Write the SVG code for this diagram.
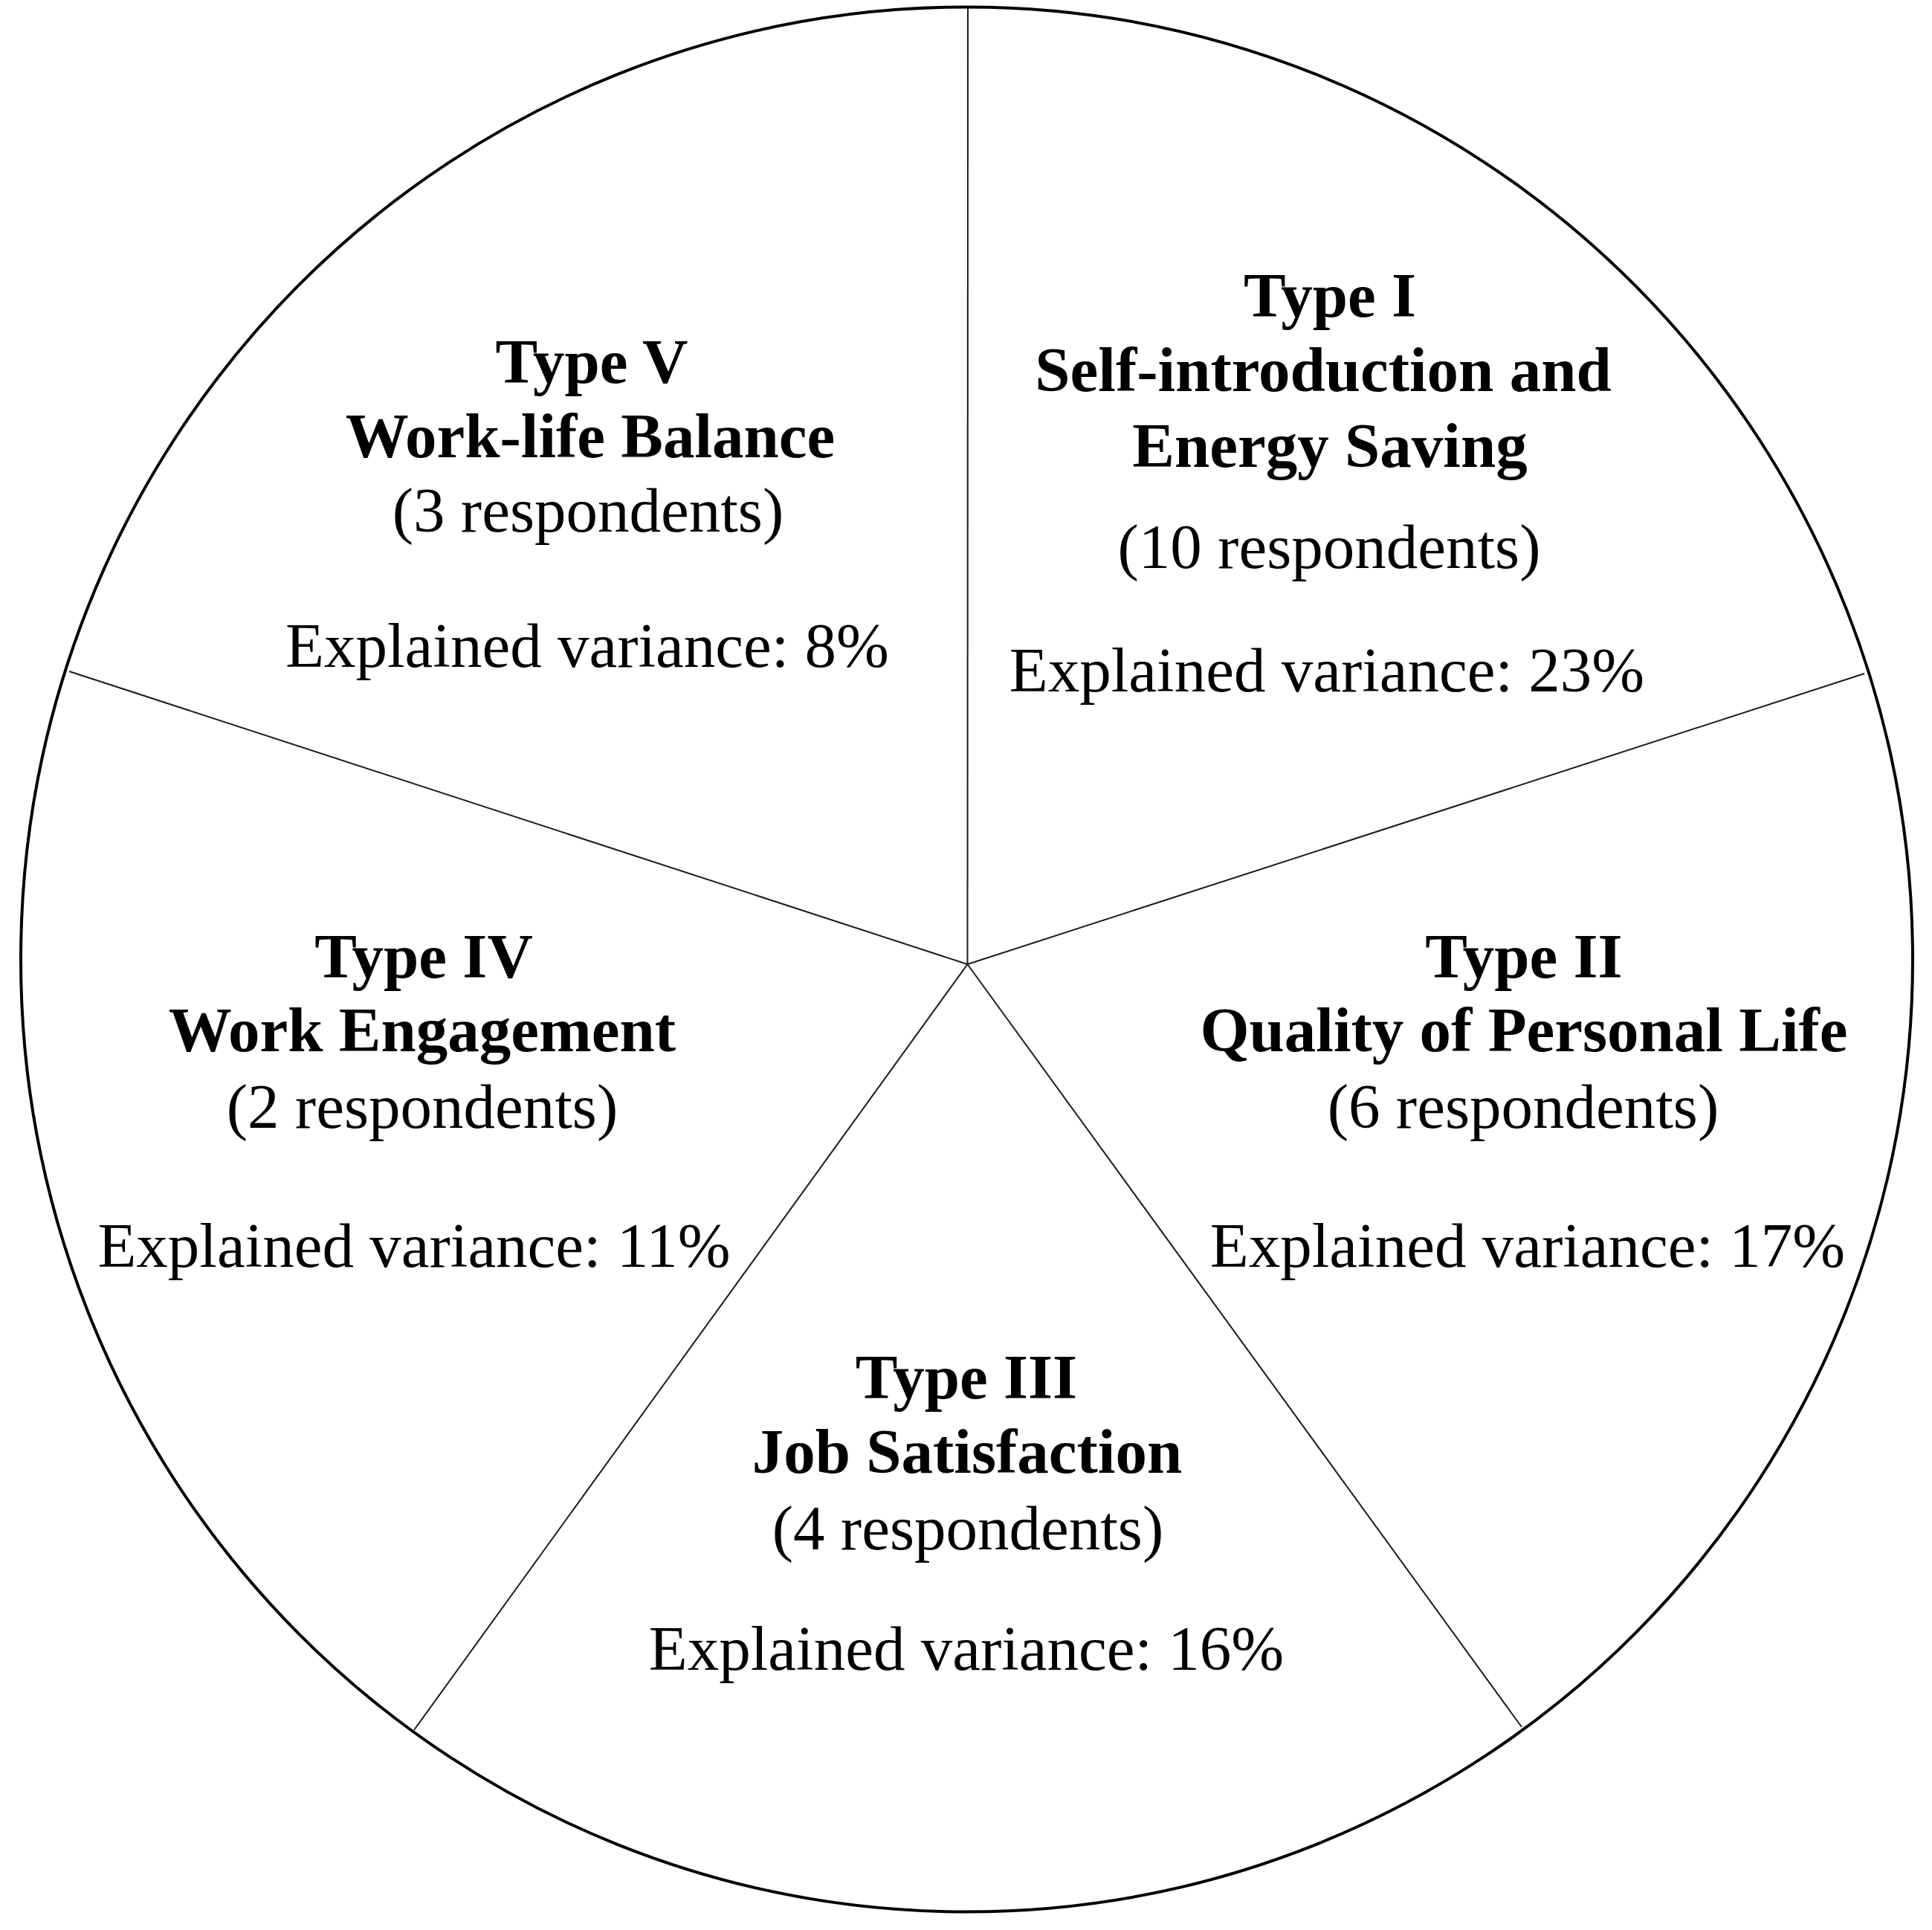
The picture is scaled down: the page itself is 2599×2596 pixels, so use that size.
<svg xmlns="http://www.w3.org/2000/svg" width="2599" height="2596" viewBox="0 0 2599 2596">
<style>
.b{font-family:"Liberation Serif","Times New Roman",serif;font-weight:bold;font-size:85px;text-anchor:middle;fill:#000}
.r{font-family:"Liberation Serif","Times New Roman",serif;font-size:85px;text-anchor:middle;fill:#000}
.sep{stroke:#1a1a1a;stroke-width:2;fill:none}
</style>
<rect width="2599" height="2596" fill="#fff"/>
<ellipse id="outline" cx="1300.5" cy="1290.5" rx="1272.5" ry="1281" fill="none" stroke="#000" stroke-width="4"/>
<g id="connectors">
<line class="sep" x1="1301.5" y1="1297" x2="1302" y2="10"/>
<line class="sep" x1="1301.5" y1="1297" x2="93" y2="903"/>
<line class="sep" x1="1301.5" y1="1297" x2="2508" y2="906"/>
<line class="sep" x1="1301.5" y1="1297" x2="557" y2="2327"/>
<line class="sep" x1="1301.5" y1="1297" x2="2047" y2="2323"/>
</g>
<g id="type1">
<text class="b" x="1789" y="426">Type I</text>
<text class="b" x="1780" y="526">Self-introduction and</text>
<text class="b" x="1789" y="628">Energy Saving</text>
<text class="r" x="1788" y="764">(10 respondents)</text>
<text class="r" x="1785" y="930">Explained variance: 23%</text>
</g>
<g id="type2">
<text class="b" x="2050" y="1315">Type II</text>
<text class="b" x="2050" y="1414">Quality of Personal Life</text>
<text class="r" x="2049" y="1517">(6 respondents)</text>
<text class="r" x="2055" y="1704">Explained variance: 17%</text>
</g>
<g id="type3">
<text class="b" x="1300" y="1881">Type III</text>
<text class="b" x="1301" y="1981">Job Satisfaction</text>
<text class="r" x="1302" y="2084">(4 respondents)</text>
<text class="r" x="1300" y="2246">Explained variance: 16%</text>
</g>
<g id="type4">
<text class="b" x="570" y="1315">Type IV</text>
<text class="b" x="568" y="1414">Work Engagement</text>
<text class="r" x="568" y="1517">(2 respondents)</text>
<text class="r" x="557" y="1704">Explained variance: 11%</text>
</g>
<g id="type5">
<text class="b" x="796" y="515">Type V</text>
<text class="b" x="794" y="615">Work-life Balance</text>
<text class="r" x="791" y="715">(3 respondents)</text>
<text class="r" x="790" y="897">Explained variance: 8%</text>
</g>
</svg>
